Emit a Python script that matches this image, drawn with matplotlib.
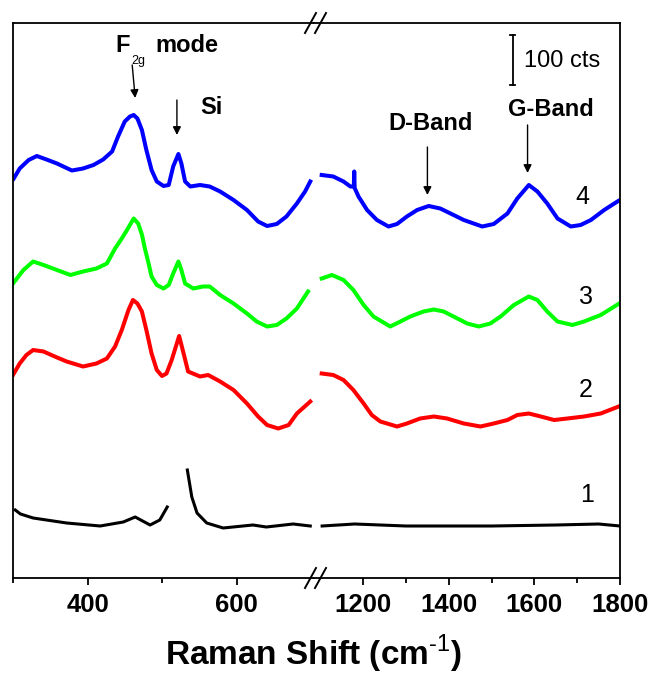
import numpy as np
import matplotlib
matplotlib.use('Agg')
import matplotlib.pyplot as plt

plt.rcParams['font.family'] = ['Liberation Sans', 'DejaVu Sans']
plt.rcParams['mathtext.fontset'] = 'custom'
plt.rcParams['mathtext.rm'] = 'Liberation Sans'
plt.rcParams['mathtext.bf'] = 'Liberation Sans:bold'

nan = np.nan

# Raman spectra (counts, stacked), low-wavenumber window
x_low_4 = [301, 309, 321, 332, 345, 359, 379, 394, 408, 421, 433, 441, 450, 457, 462, 467, 473,
           479, 486, 493, 502, 509, 515, 522, 526, 531, 538, 551, 564, 578, 596, 614, 629, 641,
           654, 667, 681, 692, 699]
y_low_4 = [799, 819, 836, 844, 837, 829, 815, 819, 826, 837, 853, 883, 913, 923, 926, 919, 896,
           856, 816, 793, 784, 786, 823, 848, 829, 793, 783, 786, 783, 773, 756, 736, 713, 704,
           708, 723, 749, 773, 793]

x_low_3 = [300, 314, 327, 341, 359, 377, 394, 412, 426, 437, 446, 453, 462, 468, 473, 477,
           482, 486, 493, 502, 509, 515, 522, 526, 531, 542, 555, 564, 578, 596, 614, 627,
           641, 654, 667, 681, 696]
y_low_3 = [589, 616, 633, 626, 616, 606, 613, 619, 629, 659, 679, 696, 719, 709, 687, 659,
           629, 603, 586, 579, 586, 609, 633, 616, 589, 579, 583, 583, 566, 549, 529, 513,
           503, 506, 519, 539, 573]

x_low_2 = [300, 309, 318, 327, 341, 356, 372, 394, 412, 426, 437, 446, 455, 461, 467, 473,
           479, 486, 493, 500, 506, 513, 523, 529, 535, 551, 562, 578, 596, 614, 629, 641,
           656, 670, 681, 699]
y_low_2 = [406, 429, 446, 456, 453, 443, 433, 423, 429, 439, 463, 496, 536, 556, 549, 533,
           496, 449, 416, 404, 409, 436, 484, 449, 413, 403, 406, 393, 376, 349, 323, 306,
           299, 306, 329, 353]

x_low_1 = [303, 310, 327, 372, 417, 448, 464, 484, 497, 507, 520, 534, 540, 547, 560, 582,
           622, 640, 676, 699]
y_low_1 = [136, 128, 120, 110, 104, 112, 122, 106, 116, 142, nan, 216, 162, 130, 110, 100,
           106, 102, 108, 104]

# high-wavenumber window
x_high_4 = [1103, 1130, 1154, 1170, 1178, 1179, 1180, 1189, 1209, 1232, 1259, 1279, 1302, 1326,
            1353, 1380, 1404, 1435, 1478, 1505, 1537, 1560, 1587, 1607, 1630, 1654, 1685, 1708,
            1732, 1763, 1794, 1800]
y_high_4 = [806, 803, 793, 783, 783, 813, 780, 763, 736, 716, 703, 708, 723, 736,
            744, 739, 729, 716, 703, 708, 729, 759, 786, 773, 749, 719, 703, 706,
            716, 736, 753, 756]

x_high_3 = [1103, 1127, 1154, 1177, 1201, 1224, 1263, 1287, 1310, 1341, 1365, 1388, 1411,
            1443, 1470, 1497, 1521, 1552, 1587, 1607, 1630, 1654, 1689, 1716, 1755, 1800]
y_high_3 = [599, 606, 596, 576, 546, 523, 503, 513, 523, 533, 537, 533, 523,
            509, 503, 509, 523, 546, 563, 556, 533, 513, 506, 513, 526, 550]

x_high_2 = [1103, 1130, 1154, 1177, 1201, 1220, 1240, 1279, 1302, 1333, 1365, 1396, 1435,
            1474, 1505, 1537, 1560, 1587, 1615, 1646, 1677, 1716, 1755, 1800]
y_high_2 = [409, 406, 396, 376, 349, 326, 313, 303, 309, 319, 323, 319, 309,
            303, 309, 316, 326, 329, 323, 316, 319, 323, 329, 344]

x_high_1 = [1104, 1180, 1300, 1500, 1650, 1750, 1800]
y_high_1 = [104, 108, 104, 104, 106, 108, 104]

colors = ['black', '#ff0000', '#00ff00', '#0000ff']
labels = ['1', '2', '3', '4']

low = [(x_low_1, y_low_1), (x_low_2, y_low_2), (x_low_3, y_low_3), (x_low_4, y_low_4)]
high = [(x_high_1, y_high_1), (x_high_2, y_high_2), (x_high_3, y_high_3), (x_high_4, y_high_4)]

W, H = 654, 675
fig = plt.figure(figsize=(W / 100, H / 100), dpi=100)
bottom, height = (H - 578) / H, 555 / H
ax1 = fig.add_axes([13 / W, bottom, (314 - 13) / W, height])
ax2 = fig.add_axes([314 / W, bottom, (620 - 314) / W, height])

for (xs, ys), c in zip(low, colors):
    ax1.plot(xs, ys, color=c, lw=2.2 if c == 'black' else 2.9, solid_joinstyle='round')
for (xs, ys), c in zip(high, colors):
    ax2.plot(xs, ys, color=c, lw=2.2 if c == 'black' else 2.9, solid_joinstyle='round')

ax1.set_xlim(300, 704)
ax2.set_xlim(1085, 1800)
ax1.spines['right'].set_visible(False)
ax2.spines['left'].set_visible(False)
ax1.set_xticks([400, 600])
ax1.set_xticks([300, 500], minor=True)
ax2.set_xticks([1200, 1400, 1600, 1800])
ax2.set_xticks([1300, 1500, 1700], minor=True)
for ax in (ax1, ax2):
    ax.set_ylim(0, 1110)
    ax.set_yticks([])
    for s in ax.spines.values():
        s.set_linewidth(1.3)
    ax.tick_params(axis='x', which='major', direction='out', length=5, width=1.3,
                   pad=6, labelsize=18.5)
    ax.tick_params(axis='x', which='minor', direction='out', length=3.5, width=1.3)
    for lab in ax.get_xticklabels():
        lab.set_fontweight('bold')

# break marks on top and bottom spines
for yb in (23, 578):
    for dx in (0, 10):
        x0 = 305 + dx
        fig.add_artist(plt.Line2D([x0 / W, (x0 + 11) / W], [1 - (yb + 10) / H, 1 - (yb - 10) / H],
                                  color='black', lw=1.4, transform=fig.transFigure))

# peak annotations
arrow = dict(arrowstyle='-|>', color='black', lw=1.0, mutation_scale=12, shrinkA=0, shrinkB=0)
ax1.annotate('', xy=(464, 960), xytext=(460, 1026), arrowprops=arrow)
ax1.annotate('', xy=(520, 886), xytext=(520, 956), arrowprops=arrow)
ax2.annotate('', xy=(1350, 766), xytext=(1350, 862), arrowprops=arrow)
ax2.annotate('', xy=(1584, 810), xytext=(1584, 906), arrowprops=arrow)

ax1.text(437, 1066, 'F', fontsize=17, fontweight='bold', va='center', ha='left')
ax1.text(468, 1034, '2g', fontsize=9, va='center', ha='center')
ax1.text(491, 1066, 'mode', fontsize=17, fontweight='bold', va='center', ha='left')
ax1.text(551, 940, 'Si', fontsize=17, fontweight='bold', va='center', ha='left')
ax2.text(1357, 910, 'D-Band', fontsize=17, fontweight='bold', va='center', ha='center')
ax2.text(1638, 936, 'G-Band', fontsize=17, fontweight='bold', va='center', ha='center')

# 100 counts scale bar
ax2.plot([1549, 1549], [986, 1086], color='black', lw=1.3)
ax2.plot([1543, 1555], [986, 986], color='black', lw=1.3)
ax2.plot([1543, 1555], [1086, 1086], color='black', lw=1.3)
ax2.text(1575, 1034, '100 cts', fontsize=17, va='center', ha='left')

label_pos = [(1724, 166), (1720, 376), (1720, 562), (1713, 762)]
for (lx, ly), t in zip(label_pos, labels):
    ax2.text(lx, ly, t, fontsize=18, va='center', ha='center')

fig.text(313 / W, 1 - 665 / H, r'Raman Shift (cm$^{\text{-1}}$)', fontsize=24, fontweight='bold',
         ha='center', va='baseline')

fig.savefig('out.png', dpi=100)
